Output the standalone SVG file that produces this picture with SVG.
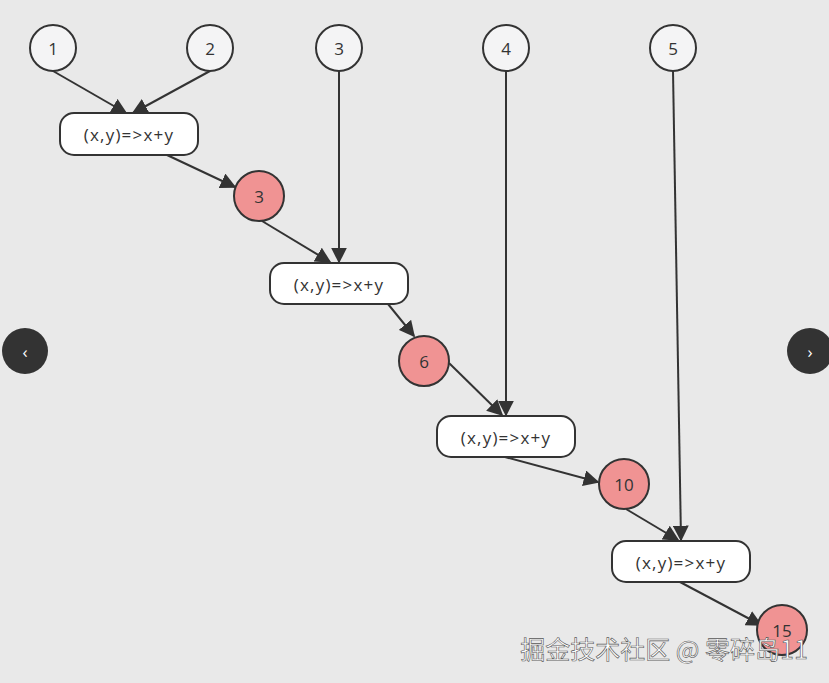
<svg xmlns="http://www.w3.org/2000/svg" width="829" height="683" viewBox="0 0 829 683">
<style>
.c{fill:#f4f4f5;stroke:#333;stroke-width:2}
.r{fill:#f09393;stroke:#333;stroke-width:2}
.b{fill:#fff;stroke:#333;stroke-width:2}
text{font-family:"Open Sans","Liberation Sans",sans-serif;font-size:17px;fill:#333;text-anchor:middle;dominant-baseline:central}
.t{letter-spacing:1.2px}
.e{stroke:#333;stroke-width:2;fill:none;marker-end:url(#a)}
</style>
<defs><marker id="a" viewBox="0 0 10 10" refX="9" refY="5" markerWidth="16" markerHeight="16" markerUnits="userSpaceOnUse" orient="auto"><path d="M0,0L10,5L0,10z" fill="#333"/></marker></defs>
<rect width="829" height="683" fill="#e9e9e9"/>
<g id="edges">
<path class="e" d="M53,71L126,113"/>
<path class="e" d="M210,71L133,113"/>
<path class="e" d="M339,71L339,262"/>
<path class="e" d="M167,155L235,187"/>
<path class="e" d="M262,221L330,262"/>
<path class="e" d="M388,304L414,336"/>
<path class="e" d="M506,71L506,415"/>
<path class="e" d="M449,363L502,415"/>
<path class="e" d="M505,457L598,482"/>
<path class="e" d="M626,509L678,540"/>
<path class="e" d="M673,71L681,540"/>
<path class="e" d="M680,582L761,625"/>
</g>
<g id="n1"><circle class="c" cx="53" cy="48" r="23"/><text x="53" y="48">1</text></g>
<g id="n2"><circle class="c" cx="210" cy="48" r="23"/><text x="210" y="48">2</text></g>
<g id="n3"><circle class="c" cx="339" cy="48" r="23"/><text x="339" y="48">3</text></g>
<g id="n4"><circle class="c" cx="506" cy="48" r="23"/><text x="506" y="48">4</text></g>
<g id="n5"><circle class="c" cx="673" cy="48" r="23"/><text x="673" y="48">5</text></g>
<g id="f1"><rect class="b" x="60" y="113" width="138" height="42" rx="14"/><text class="t" x="129" y="134">(x,y)=&gt;x+y</text></g>
<g id="r3"><circle class="r" cx="259" cy="196" r="25"/><text x="259" y="196">3</text></g>
<g id="f2"><rect class="b" x="270" y="263" width="138" height="41" rx="14"/><text class="t" x="339" y="284">(x,y)=&gt;x+y</text></g>
<g id="r6"><circle class="r" cx="424" cy="361" r="25"/><text x="424" y="361">6</text></g>
<g id="f3"><rect class="b" x="437" y="416" width="138" height="41" rx="14"/><text class="t" x="506" y="437">(x,y)=&gt;x+y</text></g>
<g id="r10"><circle class="r" cx="624" cy="484" r="25"/><text x="624" y="484">10</text></g>
<g id="f4"><rect class="b" x="612" y="541" width="138" height="41" rx="14"/><text class="t" x="681" y="562">(x,y)=&gt;x+y</text></g>
<g id="r15"><circle class="r" cx="782" cy="630" r="25"/><text x="782" y="630">15</text></g>
<g id="nav"><circle cx="25" cy="351" r="23" fill="#333"/><text x="25" y="351" style="fill:#fff">‹</text><circle cx="810" cy="351" r="23" fill="#333"/><text x="810" y="351" style="fill:#fff">›</text></g>
<text x="664" y="648" style="font-family:'Noto Sans CJK SC',sans-serif;font-size:25px;fill:#fff;stroke:#555;stroke-width:0.6">掘金技术社区 @ 零碎岛11</text>
</svg>
